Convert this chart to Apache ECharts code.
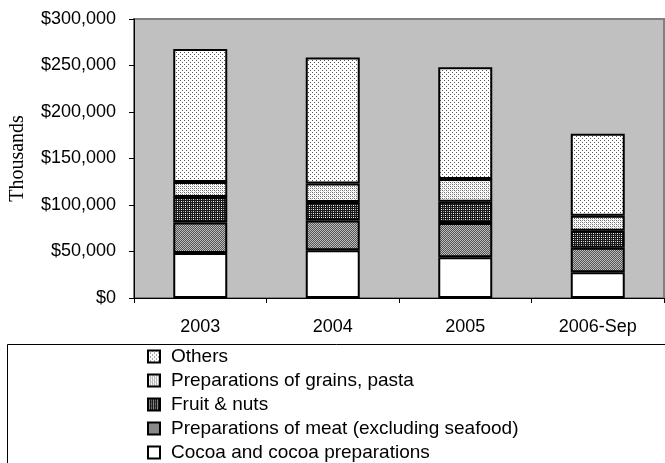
<!DOCTYPE html>
<html>
<head>
<meta charset="utf-8">
<script src="https://cdn.jsdelivr.net/npm/echarts@6/dist/echarts.min.js"></script>
<style>
html,body{margin:0;padding:0;background:#fff;}
#chart{width:665px;height:463px;}
</style>
</head>
<body>
<div id="chart"></div>
<script>
// ---- data (values in thousands of $) ----
const categories = ['2003', '2004', '2005', '2006-Sep'];
const cocoa  = [48500, 51300, 43800, 27700];
const meat   = [32800, 31900, 36900, 26200];
const fruit  = [27200, 20000, 22900, 18500];
const grains = [16100, 20000, 24300, 16100];
const others = [143100, 135300, 120300, 88100];
const yTicks = [0, 50000, 100000, 150000, 200000, 250000, 300000];
const legendOrder = ['Others', 'Preparations of grains, pasta', 'Fruit & nuts', 'Preparations of meat (excluding seafood)', 'Cocoa and cocoa preparations'];

function makePattern(size, bg, dots) {
  const c = document.createElement('canvas');
  c.width = size; c.height = size;
  const g = c.getContext('2d');
  g.fillStyle = bg; g.fillRect(0, 0, size, size);
  dots.forEach(d => { g.fillStyle = d[2]; g.fillRect(d[0], d[1], 1, 1); });
  return { image: c, repeat: 'repeat' };
}
const patOthers = makePattern(4, '#ffffff', [[0,0,'#555'],[2,2,'#555']]);
const patGrains = makePattern(4, '#ffffff', [[0,0,'#666'],[2,0,'#888'],[0,2,'#888'],[2,2,'#666'],[1,1,'#ccc'],[3,3,'#ccc']]);
const patFruit  = makePattern(4, '#1a1a1a', [[1,1,'#ffffff'],[3,1,'#bbbbbb'],[1,3,'#dddddd'],[3,3,'#888888']]);
const patMeat   = makePattern(2, '#555555', [[0,0,'#bbbbbb'],[1,1,'#bbbbbb']]);
const patCocoa  = '#ffffff';

const font = 'Liberation Sans, Arial, sans-serif';
function bar(name, data, color) {
  return {
    name, type: 'bar', stack: 'total', data, barWidth: 54,
    itemStyle: { color, borderColor: '#000', borderWidth: 2 },
    emphasis: { disabled: true }
  };
}

const chart = echarts.init(document.getElementById('chart'), null, { renderer: 'canvas' });
chart.setOption({
  animation: false,
  grid: {
    left: 133, right: 1, top: 19, bottom: 165,
    show: true, backgroundColor: '#c0c0c0', borderColor: '#808080', borderWidth: 2
  },
  xAxis: {
    type: 'category', data: categories,
    axisLine: { lineStyle: { color: '#000', width: 1 } },
    axisTick: { show: true, length: 5, lineStyle: { color: '#000' } },
    axisLabel: { color: '#000', fontFamily: font, fontSize: 18, margin: 20 }
  },
  yAxis: {
    type: 'value', min: 0, max: 300000, interval: 50000,
    name: 'Thousands', nameLocation: 'middle', nameGap: 106,
    nameTextStyle: { fontFamily: 'Liberation Serif, Times New Roman, serif', fontSize: 20, color: '#000' },
    axisLine: { show: true, lineStyle: { color: '#000', width: 1 } },
    axisTick: { show: true, length: 5, lineStyle: { color: '#000' } },
    splitLine: { show: false },
    axisLabel: {
      color: '#000', fontFamily: font, fontSize: 18, margin: 18,
      formatter: v => yTicks.includes(v) ? '$' + v.toLocaleString('en-US') : ''
    }
  },
  legend: {
    orient: 'vertical', left: 147, top: 347, height: 130, itemGap: 5, padding: 0,
    itemWidth: 12, itemHeight: 12, icon: 'rect',
    textStyle: { fontFamily: font, fontSize: 19, lineHeight: 18, color: '#000', padding: [0, 0, 0, 6] },
    data: legendOrder
  },
  graphic: [{
    type: 'rect', left: 5, top: 342,
    shape: { width: 659, height: 126 },
    style: { fill: 'none', stroke: '#000', lineWidth: 1 }, silent: true
  }],
  series: [
    bar('Cocoa and cocoa preparations', cocoa, patCocoa),
    bar('Preparations of meat (excluding seafood)', meat, patMeat),
    bar('Fruit & nuts', fruit, patFruit),
    bar('Preparations of grains, pasta', grains, patGrains),
    bar('Others', others, patOthers)
  ]
});
</script>
</body>
</html>
